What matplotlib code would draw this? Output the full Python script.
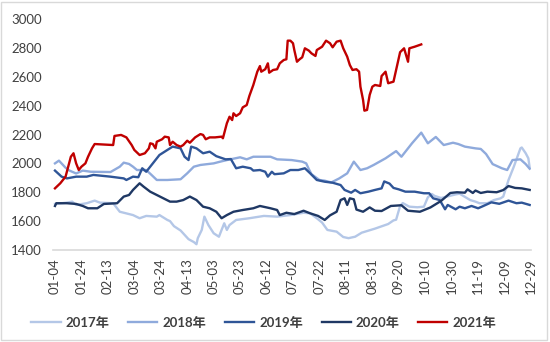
import matplotlib
matplotlib.use("Agg")
import matplotlib.pyplot as plt
import pandas as pd
from matplotlib.patches import Rectangle

plt.rcParams['font.family'] = ['Lato', 'Noto Sans CJK SC', 'DejaVu Sans']

# Category axis labels (every 20th day) and value axis ticks
tick_labels = ['01-04', '01-24', '02-13', '03-04', '03-24', '04-13', '05-03', '05-23',
               '06-12', '07-02', '07-22', '08-11', '08-31', '09-20', '10-10', '10-30',
               '11-19', '12-09', '12-29']
y_ticks = [1400, 1600, 1800, 2000, 2200, 2400, 2600, 2800, 3000]

# ---- 2017 ----
dates_2017 = ['01-04', '01-13', '01-17', '01-20', '01-28', '02-03', '02-07', '02-17', '02-22',
              '03-03', '03-08', '03-13', '03-21', '03-23', '03-29', '03-31', '04-03', '04-08',
              '04-14', '04-18', '04-20', '04-21', '04-24', '04-26', '04-29', '05-03', '05-07',
              '05-09', '05-11', '05-13', '05-15', '05-20', '05-30', '06-10', '06-20', '06-30',
              '07-10', '07-15', '07-20', '07-24', '07-28', '08-04', '08-09', '08-13', '08-18',
              '08-23', '09-02', '09-12', '09-16', '09-18', '09-21', '09-23', '09-28', '10-04',
              '10-09', '10-12', '10-15', '10-17', '10-22', '11-02', '11-05', '11-13', '11-17',
              '11-20', '11-26', '12-01', '12-06', '12-08', '12-12', '12-16', '12-21', '12-22',
              '12-25', '12-27', '12-28']
vals_2017 = [1719, 1728, 1735, 1712, 1724, 1742, 1728, 1724, 1665,
             1642, 1620, 1636, 1631, 1642, 1608, 1600, 1565, 1535,
             1475, 1455, 1440, 1482, 1539, 1631, 1573, 1516, 1492,
             1539, 1585, 1539, 1573, 1608, 1620, 1636, 1631, 1642,
             1658, 1654, 1620, 1590, 1539, 1527, 1490, 1482, 1492,
             1520, 1548, 1580, 1605, 1610, 1705, 1725, 1700, 1696,
             1700, 1765, 1788, 1775, 1760, 1785, 1790, 1746, 1735,
             1724, 1724, 1746, 1758, 1770, 1885, 1977, 2104, 2110,
             2070, 2035, 1970]

# ---- 2018 ----
dates_2018 = ['01-04', '01-07', '01-12', '01-15', '01-20', '01-23', '01-25', '01-31', '02-15',
              '02-22', '02-25', '02-29', '03-03', '03-06', '03-13', '03-17', '03-21', '03-29',
              '04-08', '04-13', '04-18', '04-23', '05-03', '05-08', '05-13', '05-23', '05-28',
              '06-02', '06-15', '06-20', '07-01', '07-09', '07-12', '07-14', '07-16', '07-22',
              '07-26', '07-31', '08-06', '08-12', '08-17', '08-22', '08-27', '09-01', '09-10',
              '09-18', '09-22', '09-30', '10-07', '10-12', '10-18', '10-24', '10-31', '11-04',
              '11-09', '11-17', '11-21', '11-25', '11-30', '12-07', '12-11', '12-15', '12-21',
              '12-25', '12-28']
vals_2018 = [2000, 2019, 1970, 1950, 1930, 1942, 1950, 1942, 1940,
             1977, 2005, 1996, 1977, 1954, 1954, 1920, 1885, 1885,
             1890, 1931, 1977, 1989, 2000, 2012, 2023, 2042, 2028,
             2046, 2046, 2028, 2023, 2012, 2000, 1960, 1925, 1885,
             1880, 1868, 1896, 1931, 2012, 1954, 1966, 1989, 2035,
             2085, 2046, 2139, 2213, 2139, 2183, 2127, 2143, 2134,
             2116, 2104, 2100, 2065, 1995, 1966, 1954, 2023, 2028,
             1995, 1963]

# ---- 2019 ----
dates_2019 = ['01-04', '01-09', '01-13', '01-20', '01-28', '02-02', '02-15', '02-25', '02-27',
              '03-03', '03-07', '03-10', '03-13', '03-18', '03-23', '03-29', '04-02', '04-08',
              '04-11', '04-14', '04-16', '04-20', '04-25', '04-30', '05-05', '05-12', '05-16',
              '05-20', '05-25', '05-31', '06-02', '06-07', '06-11', '06-13', '06-16', '06-18',
              '06-25', '06-30', '07-06', '07-11', '07-15', '07-20', '07-26', '08-01', '08-07',
              '08-10', '08-15', '08-18', '08-22', '08-28', '09-02', '09-07', '09-09', '09-13',
              '09-16', '09-20', '09-25', '10-02', '10-09', '10-13', '10-16', '10-21', '10-25',
              '10-27', '11-02', '11-05', '11-09', '11-14', '11-19', '11-23', '11-29', '12-05',
              '12-12', '12-18', '12-22', '12-28']
vals_2019 = [1950, 1908, 1896, 1908, 1908, 1920, 1908, 1896, 1885,
             1908, 1904, 1966, 1942, 2000, 2058, 2093, 2116, 2104,
             2046, 2023, 2116, 2104, 2070, 2081, 2050, 2028, 2030,
             1966, 1977, 1966, 1950, 1954, 1942, 1908, 1942, 1925,
             1931, 1954, 1954, 1966, 1931, 1885, 1873, 1866, 1850,
             1816, 1797, 1816, 1793, 1804, 1816, 1827, 1875, 1860,
             1830, 1820, 1804, 1804, 1793, 1793, 1758, 1746, 1682,
             1712, 1682, 1700, 1689, 1705, 1689, 1705, 1730, 1720,
             1742, 1724, 1728, 1712]

# ---- 2020 ----
dates_2020 = ['01-04', '01-05', '01-13', '01-20', '01-25', '01-29', '02-05', '02-10', '02-20',
              '02-25', '02-29', '03-03', '03-08', '03-11', '03-16', '03-21', '03-26', '03-31',
              '04-05', '04-10', '04-15', '04-20', '04-25', '04-30', '05-05', '05-09', '05-13',
              '05-18', '05-25', '06-02', '06-07', '06-15', '06-20', '06-22', '06-27', '07-03',
              '07-10', '07-15', '07-21', '07-26', '07-30', '08-04', '08-07', '08-10', '08-12',
              '08-14', '08-17', '08-19', '08-24', '08-29', '09-02', '09-07', '09-14', '09-22',
              '09-27', '10-06', '10-14', '10-22', '10-29', '11-03', '11-09', '11-11', '11-15',
              '11-17', '11-21', '11-26', '12-03', '12-08', '12-12', '12-17', '12-22', '12-28']
vals_2020 = [1705, 1724, 1724, 1719, 1705, 1689, 1689, 1719, 1724,
             1770, 1781, 1816, 1862, 1839, 1804, 1781, 1758, 1735,
             1735, 1746, 1770, 1746, 1700, 1689, 1665, 1620, 1642,
             1665, 1677, 1689, 1705, 1689, 1677, 1642, 1658, 1649,
             1672, 1654, 1636, 1608, 1640, 1665, 1746, 1758, 1712,
             1758, 1751, 1680, 1665, 1695, 1672, 1670, 1705, 1710,
             1672, 1665, 1695, 1740, 1795, 1800, 1797, 1820, 1795,
             1812, 1795, 1804, 1800, 1815, 1843, 1830, 1827, 1816]

# ---- 2021 ----
dates_2021 = ['01-04', '01-08', '01-12', '01-14', '01-16', '01-18', '01-20', '01-22', '01-24',
              '01-27', '01-29', '02-01', '02-03', '02-17', '02-18', '02-23', '02-27', '03-02',
              '03-04', '03-08', '03-12', '03-15', '03-16', '03-18', '03-20', '03-21', '03-25',
              '03-27', '03-30', '03-31', '04-02', '04-05', '04-08', '04-10', '04-13', '04-15',
              '04-19', '04-23', '04-25', '04-27', '04-30', '05-04', '05-09', '05-10', '05-13',
              '05-15', '05-17', '05-18', '05-20', '05-23', '05-25', '05-28', '05-30', '06-02',
              '06-05', '06-07', '06-08', '06-11', '06-13', '06-14', '06-17', '06-20', '06-22',
              '06-25', '06-27', '06-28', '06-30', '07-02', '07-03', '07-05', '07-07', '07-09',
              '07-11', '07-14', '07-16', '07-19', '07-20', '07-24', '07-27', '07-30', '08-01',
              '08-04', '08-07', '08-09', '08-12', '08-14', '08-16', '08-19', '08-21', '08-22',
              '08-24', '08-25', '08-27', '08-29', '08-31', '09-02', '09-06', '09-07', '09-10',
              '09-12', '09-16', '09-21', '09-24', '09-27', '09-28', '10-02', '10-07']
vals_2021 = [1827, 1862, 1908, 1977, 2046, 2070, 2000, 1954, 1977,
             2000, 2046, 2104, 2134, 2127, 2190, 2197, 2180, 2127,
             2093, 2058, 2070, 2104, 2139, 2134, 2104, 2150, 2167,
             2185, 2180, 2127, 2150, 2127, 2116, 2127, 2157, 2143,
             2180, 2203, 2197, 2167, 2180, 2180, 2185, 2174, 2278,
             2323, 2300, 2347, 2328, 2347, 2388, 2404, 2467, 2543,
             2635, 2674, 2635, 2652, 2693, 2628, 2647, 2652, 2693,
             2716, 2721, 2850, 2850, 2832, 2785, 2704, 2721, 2735,
             2797, 2781, 2762, 2744, 2785, 2808, 2850, 2832, 2804,
             2843, 2850, 2797, 2739, 2681, 2647, 2652, 2635, 2531,
             2439, 2365, 2370, 2474, 2531, 2543, 2536, 2605, 2635,
             2555, 2566, 2770, 2797, 2704, 2797, 2808, 2824]

series = [
    ('2017年', dates_2017, vals_2017, '#B4C7E7'),
    ('2018年', dates_2018, vals_2018, '#8FAADC'),
    ('2019年', dates_2019, vals_2019, '#2F5597'),
    ('2020年', dates_2020, vals_2020, '#1F3864'),
    ('2021年', dates_2021, vals_2021, '#C00000'),
]

base = pd.Timestamp('2020-01-04')


def day_pos(labels):
    """Position of each MM-DD label along the daily category axis."""
    return [(pd.Timestamp('2020-' + s) - base).days for s in labels]


fig = plt.figure(figsize=(5.5, 3.42), dpi=100)
ax = fig.add_axes([53 / 550, 1 - 250 / 342, 478 / 550, 231 / 342])

for name, d, v, c in series:
    ax.plot(day_pos(d), v, color=c, lw=1.7, label=name, solid_joinstyle='round')

ax.set_xlim(-1.5, 360)
ax.set_ylim(1400, 3000)
ax.set_yticks(y_ticks)
ax.set_yticklabels([str(t) for t in y_ticks], fontsize=9.5, color='#404040')
ax.set_xticks(day_pos(tick_labels))
ax.set_xticklabels(tick_labels, rotation=90, fontsize=9.5, color='#404040')
ax.tick_params(axis='both', length=0)
ax.tick_params(axis='y', pad=8)
ax.tick_params(axis='x', pad=6)

for s in ['top', 'right', 'left']:
    ax.spines[s].set_visible(False)
ax.spines['bottom'].set_color('#D9D9D9')
ax.spines['bottom'].set_linewidth(1.2)

leg = fig.legend(loc='center', bbox_to_anchor=(264 / 550, 1 - 323 / 342), ncol=5,
                 frameon=False, handlelength=2.2, handletextpad=0.4, columnspacing=1.4,
                 prop={'weight': 'bold', 'size': 9.5})
for t in leg.get_texts():
    t.set_color('#404040')

fig.patches.append(Rectangle((1 / 550, 2 / 342), 546 / 550, 338 / 342,
                             transform=fig.transFigure, fill=False,
                             edgecolor='#D9D9D9', lw=1))

fig.savefig('out.png', dpi=100, facecolor='white')
